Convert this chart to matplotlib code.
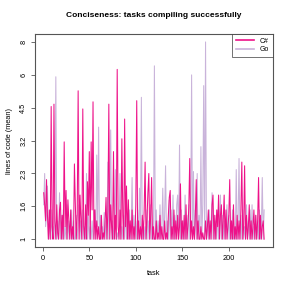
import numpy as np
import matplotlib
matplotlib.use("Agg")
import matplotlib.pyplot as plt

# ---- data (mean lines of code per task) ----
csharp = [
    1.85, 1.6, 1.3, 2.15, 1.4, 1.0, 1.5, 1.0, 4.5, 1.2,
    1.0, 4.6, 1.3, 1.0, 1.6, 1.1, 1.0, 1.5, 1.65, 1.0,
    1.4, 1.0, 3.2, 1.2, 1.9, 1.0, 1.7, 1.3, 1.0, 1.5,
    1.0, 1.2, 1.0, 2.55, 1.6, 1.0, 1.4, 5.2, 1.0, 1.8,
    1.3, 1.0, 4.4, 1.2, 1.0, 1.6, 1.0, 2.1, 1.4, 2.9,
    1.0, 3.2, 1.5, 4.7, 1.0, 1.5, 1.0, 1.3, 1.0, 1.2,
    1.0, 1.0, 1.4, 1.0, 1.1, 1.0, 1.3, 1.75, 1.0, 1.5,
    4.6, 1.0, 1.6, 1.2, 1.0, 2.9, 1.0, 1.4, 1.0, 6.3,
    1.2, 1.0, 1.5, 1.0, 3.3, 1.4, 1.0, 4.0, 1.2, 2.0,
    1.0, 1.7, 1.0, 1.3, 1.0, 1.5, 1.0, 1.2, 1.0, 1.6,
    4.75, 1.0, 1.3, 1.0, 1.2, 1.0, 1.4, 1.0, 1.5, 2.6,
    1.0, 1.3, 1.85, 2.3, 1.0, 1.4, 2.2, 1.0, 1.2, 1.0,
    1.0, 1.3, 1.0, 1.1, 1.0, 1.4, 1.0, 1.2, 1.0, 1.0,
    1.3, 1.0, 1.1, 1.0, 1.4, 1.75, 1.9, 1.0, 1.2, 1.0,
    1.5, 1.0, 1.3, 1.0, 1.4, 1.0, 1.2, 2.05, 1.0, 1.3,
    1.0, 1.4, 1.0, 1.6, 1.0, 1.2, 1.55, 2.7, 1.0, 1.3,
    1.0, 1.2, 1.0, 1.4, 2.15, 1.0, 1.3, 1.0, 1.0, 1.2,
    1.0, 1.1, 1.0, 1.0, 1.3, 1.0, 1.2, 1.5, 1.0, 1.3,
    1.0, 1.6, 1.8, 1.0, 1.4, 1.0, 1.5, 1.2, 1.8, 1.0,
    1.4, 1.6, 1.0, 1.3, 1.8, 1.0, 1.5, 1.0, 1.2, 1.4,
    2.15, 1.0, 1.3, 1.0, 1.6, 1.0, 1.2, 1.0, 1.4, 1.0,
    1.3, 1.0, 1.5, 2.6, 1.0, 1.2, 2.5, 1.0, 1.4, 1.0,
    1.2, 1.6, 1.0, 1.3, 1.0, 1.2, 1.5, 1.0, 1.4, 1.0,
    1.3, 2.2, 1.0, 1.4, 1.0, 1.2, 1.3, 1.0,
]

go = [
    1.6, 2.3, 1.2, 1.4, 2.0, 1.0, 1.3, 1.0, 1.5, 1.0,
    1.2, 1.0, 1.6, 5.9, 1.0, 1.3, 1.0, 1.85, 1.0, 1.4,
    1.0, 1.5, 1.0, 1.2, 1.0, 1.6, 1.0, 1.3, 1.0, 1.2,
    1.5, 1.0, 1.3, 1.0, 1.0, 1.4, 1.0, 1.2, 1.6, 1.0,
    1.3, 1.0, 1.5, 1.0, 1.2, 1.0, 2.3, 1.0, 1.4, 1.0,
    1.2, 1.0, 1.3, 1.0, 1.1, 1.5, 1.0, 2.8, 1.2, 3.7,
    1.0, 1.4, 1.0, 1.2, 1.0, 1.45, 1.0, 1.3, 1.0, 2.6,
    1.0, 1.5, 3.6, 1.0, 1.3, 1.0, 1.2, 2.4, 1.0, 1.1,
    1.0, 1.3, 2.3, 1.0, 1.2, 1.0, 1.4, 1.0, 1.6, 1.0,
    1.3, 1.0, 1.5, 1.0, 1.2, 2.2, 1.0, 1.4, 1.0, 1.3,
    1.0, 1.5, 1.0, 1.95, 1.2, 4.9, 1.0, 1.3, 1.0, 1.2,
    1.0, 1.5, 1.0, 1.3, 1.0, 1.6, 1.0, 1.2, 1.0, 6.5,
    1.0, 1.5, 1.0, 1.3, 1.0, 1.6, 1.0, 1.2, 1.95, 1.0,
    1.4, 2.5, 1.0, 1.3, 1.0, 1.7, 1.0, 1.5, 1.0, 1.8,
    1.0, 1.4, 1.0, 1.6, 1.8, 1.0, 3.1, 1.0, 1.5, 1.0,
    1.3, 1.0, 1.8, 1.0, 1.4, 1.0, 1.6, 1.0, 1.3, 6.0,
    1.0, 2.35, 1.0, 1.5, 1.0, 2.3, 1.0, 1.4, 1.0, 3.05,
    1.0, 1.6, 5.45, 1.0, 8.0, 1.0, 1.3, 1.0, 1.5, 1.0,
    1.2, 1.85, 1.0, 1.4, 1.0, 1.3, 1.0, 1.5, 1.0, 1.2,
    1.8, 1.0, 1.4, 1.0, 1.3, 1.0, 1.2, 1.6, 1.0, 1.4,
    1.0, 1.3, 1.0, 1.5, 1.0, 1.2, 1.0, 2.4, 1.0, 1.3,
    2.7, 1.0, 1.4, 1.0, 1.5, 1.0, 1.2, 1.0, 1.6, 1.0,
    1.3, 1.0, 1.5, 1.0, 1.6, 1.0, 1.2, 1.0, 1.4, 1.0,
    1.3, 1.0, 1.5, 1.0, 1.2, 2.2, 1.0, 1.5,
]

series_names = ["C#", "Go"]
y_tick_labels = ["1", "1.6", "2.3", "3.2", "4.5", "6", "8"]
x_ticks = [0, 50, 100, 150, 200]

PINK = "#EE1289"
LAVENDER = "#C9B3DA"
FRAME = "#555555"


def main() -> None:
    plt.rcParams["font.family"] = ["Liberation Sans", "DejaVu Sans"]

    tasks = np.arange(1, len(csharp) + 1)

    fig = plt.figure(figsize=(2.91, 2.91), dpi=100)
    ax = fig.add_axes([0.120, 0.151, 0.818, 0.732])

    # y axis is log(x + 1)
    ax.set_yscale("function", functions=(np.log1p, np.expm1))

    ax.plot(tasks, go, color=LAVENDER, lw=0.75, label=series_names[1], zorder=2)
    ax.plot(tasks, csharp, color=PINK, lw=0.75, label=series_names[0], zorder=3)

    # R-style 4% padding
    n = len(tasks)
    span = n - 1
    ax.set_xlim(1 - 0.04 * span, n + 0.04 * span)
    lo, hi = np.log1p(1.0), np.log1p(8.0)
    pad = 0.04 * (hi - lo)
    ax.set_ylim(np.expm1(lo - pad), np.expm1(hi + pad))

    y_ticks = np.expm1(np.linspace(lo, hi, len(y_tick_labels)))
    ax.set_yticks(y_ticks)
    ax.set_yticklabels(y_tick_labels, rotation=90, va="center")
    ax.yaxis.set_minor_locator(plt.NullLocator())
    ax.set_xticks(x_ticks)
    ax.set_xticklabels([str(t) for t in x_ticks])

    for s in ax.spines.values():
        s.set_color(FRAME)
        s.set_linewidth(0.8)
    ax.tick_params(axis="both", direction="out", length=3, width=0.6,
                   color=FRAME, labelsize=5.3, pad=2.5)

    ax.set_xlabel("task", fontsize=5.3, labelpad=6)
    ax.set_ylabel("lines of code (mean)", fontsize=5.3, labelpad=5)
    ax.set_title("Conciseness: tasks compiling successfully",
                 fontsize=6.0, fontweight="bold", pad=12)

    # legend order: C# first
    handles, labels = ax.get_legend_handles_labels()
    leg = ax.legend(handles[::-1], labels[::-1], loc="upper right",
                    fontsize=5.0, frameon=True, fancybox=False,
                    borderaxespad=0.0, handlelength=2.6, handletextpad=0.8,
                    borderpad=0.55, labelspacing=0.2)
    leg.get_frame().set_edgecolor("#333333")
    leg.get_frame().set_linewidth(0.6)
    for line in leg.get_lines():
        line.set_linewidth(1.2)

    fig.savefig("out.png", dpi=100)
    plt.close(fig)


if __name__ == "__main__":
    main()
